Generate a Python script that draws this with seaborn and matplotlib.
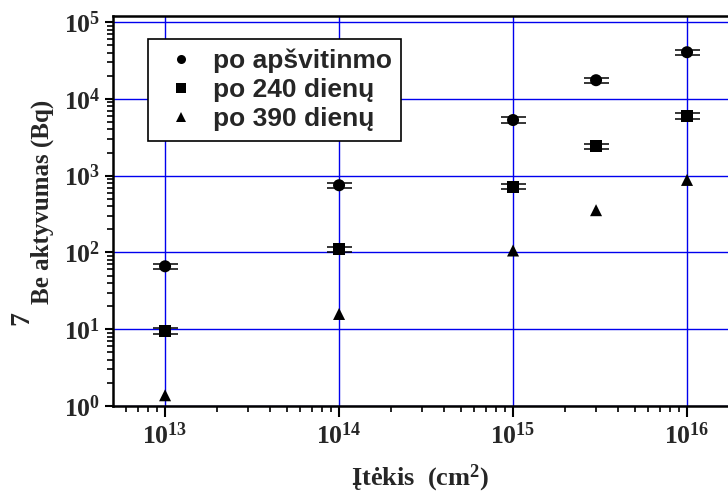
import numpy as np
import pandas as pd
import matplotlib
matplotlib.use("Agg")
import matplotlib.pyplot as plt
import seaborn as sns
from matplotlib.ticker import LogLocator, FuncFormatter, NullFormatter

# ---- data ----
fluence = [1e13, 1e14, 1e15, 3e15, 1e16]
act_after_irr = [66, 750, 5300, 17500, 40500]
act_240 = [9.5, 110, 720, 2400, 6000]
act_390 = [1.38, 15.8, 106, 355, 880]
err_after_irr = [5.3, 60, 420, 1400, 3200]
err_240 = [0.8, 9, 58, 190, 480]
series_names = ["po apšvitinmo", "po 240 dienų", "po 390 dienų"]
y_ticks = [1e0, 1e1, 1e2, 1e3, 1e4, 1e5]
x_ticks = [1e13, 1e14, 1e15, 1e16]

df = pd.DataFrame({
    "fluence": fluence * 3,
    "activity": act_after_irr + act_240 + act_390,
    "series": [series_names[0]] * 5 + [series_names[1]] * 5 + [series_names[2]] * 5,
})

sns.set_theme(style="ticks")
plt.rcParams["font.family"] = ["Liberation Serif", "DejaVu Serif"]
plt.rcParams["mathtext.fontset"] = "custom"
plt.rcParams["mathtext.rm"] = "Liberation Serif:bold"
plt.rcParams["mathtext.bf"] = "Liberation Serif:bold"
plt.rcParams["mathtext.it"] = "Liberation Serif:bold:italic"

fig = plt.figure(figsize=(7.28, 4.96), dpi=100)
ax = fig.add_axes([113 / 728, 90 / 496, (728 - 113) / 728, 390 / 496])

ax.set_xscale("log")
ax.set_yscale("log")

# error bars
ax.errorbar(fluence, act_after_irr, yerr=err_after_irr, fmt="none",
            ecolor="black", elinewidth=1.2, capsize=9, capthick=1.1, zorder=3)
ax.errorbar(fluence, act_240, yerr=err_240, fmt="none",
            ecolor="black", elinewidth=1.2, capsize=9, capthick=1.1, zorder=3)

sns.scatterplot(data=df, x="fluence", y="activity", style="series",
                markers={series_names[0]: "o", series_names[1]: "s", series_names[2]: "^"},
                color="black", s=75, linewidth=0, ax=ax, zorder=4)

ax.set_xlim(5.02e12, 1.72e16)
ax.set_ylim(1, 1.2e5)

ax.set_xticks(x_ticks)
ax.set_yticks(y_ticks)
ax.xaxis.set_minor_locator(LogLocator(base=10, subs=np.arange(2, 10), numticks=20))
ax.yaxis.set_minor_locator(LogLocator(base=10, subs=np.arange(2, 10), numticks=20))
fmt = FuncFormatter(lambda v, p: r"$\mathbf{10^{%d}}$" % int(round(np.log10(v))))
ax.xaxis.set_major_formatter(fmt)
ax.yaxis.set_major_formatter(fmt)
ax.xaxis.set_minor_formatter(NullFormatter())
ax.yaxis.set_minor_formatter(NullFormatter())

ax.tick_params(axis="both", which="major", direction="out", width=1.5,
               labelsize=18.5, color="black")
ax.tick_params(axis="both", which="minor", direction="out", width=1.2,
               color="black")
ax.tick_params(axis="x", which="major", length=8, pad=4)
ax.tick_params(axis="x", which="minor", length=4.5)
ax.tick_params(axis="y", which="major", length=6, pad=3)
ax.tick_params(axis="y", which="minor", length=4)

ax.grid(True, which="major", color="#0000ee", linewidth=1.0)
ax.set_axisbelow(True)

for side in ["left", "bottom", "top"]:
    ax.spines[side].set_linewidth(1.8)
    ax.spines[side].set_color("black")
ax.spines["right"].set_visible(False)

ax.set_xlabel(r"Įtėkis  (cm$^{2}$)", fontsize=19, fontweight="bold",
              fontfamily="Liberation Serif", labelpad=10)
ax.set_ylabel("")
fig.text(42 / 728, 1 - 202 / 496, "Be aktyvumas (Bq)", rotation=90, ha="center",
         va="center", fontsize=18, fontweight="bold", fontfamily="Liberation Serif")
fig.text(22 / 728, 1 - 318 / 496, "7", rotation=90, ha="center", va="center",
         fontsize=20, fontweight="bold", fontfamily="Liberation Serif")

handles, labels = ax.get_legend_handles_labels()
leg = ax.legend(handles, labels, loc="upper left",
                bbox_to_anchor=((148 - 113) / 615, (406 - 39) / 390),
                borderaxespad=0, frameon=True, fancybox=False, shadow=False,
                framealpha=1, edgecolor="black", markerscale=0.75,
                prop={"family": "Liberation Sans", "weight": "bold", "size": 19},
                labelspacing=0.2, handletextpad=0.3, borderpad=0.35,
                handlelength=1.8)
leg.get_frame().set_linewidth(1.2)

fig.savefig("out.png", dpi=100)
